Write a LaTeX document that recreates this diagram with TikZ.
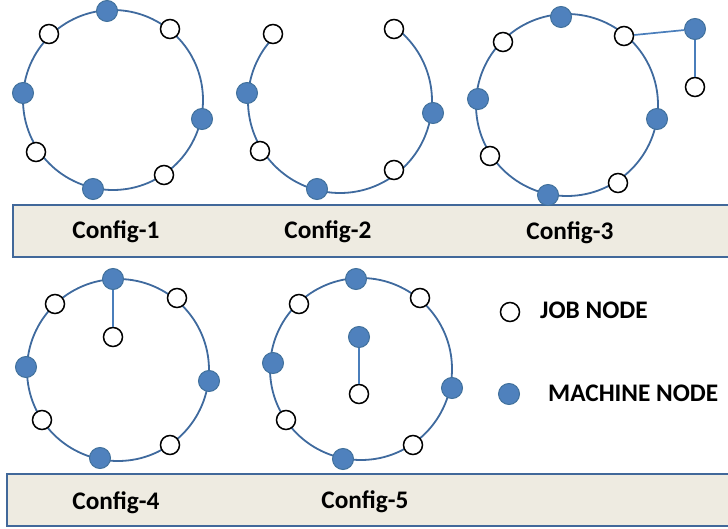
\documentclass[tikz,border=0pt]{standalone}
\usepackage{fontspec}
\setmainfont{Carlito}
\definecolor{ringblue}{HTML}{3F6A9E}
\definecolor{linkblue}{HTML}{4A7EBB}
\definecolor{machfill}{HTML}{4F81BD}
\definecolor{machdraw}{HTML}{41719C}
\definecolor{barfill}{HTML}{EEEBE1}
\definecolor{bardraw}{HTML}{41689A}
\begin{document}
\begin{tikzpicture}[x=1pt,y=-1pt,
  ring/.style={draw=ringblue,line width=1.8pt},
  link/.style={draw=linkblue,line width=1.7pt},
  jobnode/.style={circle,draw=black,line width=1.5pt,fill=white,minimum size=19pt,inner sep=0pt},
  machnode/.style={circle,draw=machdraw,line width=1pt,fill=machfill,minimum size=21pt,inner sep=0pt},
  bar/.style={draw=bardraw,line width=2pt,fill=barfill},
  lbl/.style={font=\bfseries\fontsize{25.3}{30}\selectfont,inner sep=0pt}]
\useasboundingbox (0,0) rectangle (728,529);
\clip (0,0) rectangle (728,529);
% label bars
\draw[bar] (13,205) rectangle (745,257);
\draw[bar] (7,474) rectangle (745,526);
\node[lbl] (l1) at (116,232) {Config-1};
\node[lbl] (l2) at (328,232) {Config-2};
\node[lbl] (l3) at (570,233) {Config-3};
\node[lbl] (l4) at (116,503) {Config-4};
\node[lbl] (l5) at (365,502) {Config-5};
% centres
\coordinate (c1c) at (113,100);
\coordinate (c2c) at (340,101);
\coordinate (c3c) at (567,105);
\coordinate (c4c) at (118,370);
\coordinate (c5c) at (361,369);
% rings
\draw[ring] (c1c) circle[radius=90pt];
\draw[ring] ([shift={(135:92pt)}]c2c) arc[start angle=135,end angle=413,radius=92pt];
\draw[ring] (c3c) circle[radius=91pt];
\draw[ring] (c4c) circle[radius=91pt];
\draw[ring] (c5c) circle[radius=91pt];
% Config-1
\node[machnode] (c1m1) at (107,11) {};
\node[jobnode] (c1w1) at (49,34) {};
\node[jobnode] (c1w2) at (170,29) {};
\node[machnode] (c1m2) at (23,93) {};
\node[machnode] (c1m3) at (202,119) {};
\node[jobnode] (c1w3) at (36,152) {};
\node[jobnode] (c1w4) at (164,175) {};
\node[machnode] (c1m4) at (93,189) {};
% Config-2
\node[jobnode] (c2w1) at (273,34) {};
\node[jobnode] (c2w2) at (394,29) {};
\node[machnode] (c2m2) at (247,93) {};
\node[machnode] (c2m3) at (433,113) {};
\node[jobnode] (c2w3) at (260,151) {};
\node[jobnode] (c2w4) at (394,170) {};
\node[machnode] (c2m4) at (317,189) {};
% Config-3
\node[machnode] (c3m1) at (561,17) {};
\node[jobnode] (c3w1) at (503,42) {};
\node[jobnode] (c3w2) at (624,36) {};
\node[machnode] (c3m5) at (695,29) {};
\node[jobnode] (c3w5) at (695,87) {};
\node[machnode] (c3m2) at (478,99) {};
\node[machnode] (c3m3) at (657,119) {};
\node[jobnode] (c3w3) at (490,156) {};
\node[jobnode] (c3w4) at (618,183) {};
\node[machnode] (c3m4) at (548,195) {};
\draw[link] (c3w2) -- (c3m5);
\draw[link] (c3m5) -- (c3w5);
% Config-4
\node[machnode] (c4m1) at (113,279) {};
\node[jobnode] (c4w1) at (55,304) {};
\node[jobnode] (c4w2) at (177,298) {};
\node[jobnode] (c4w5) at (113,337) {};
\node[machnode] (c4m2) at (26,367) {};
\node[machnode] (c4m3) at (209,381) {};
\node[jobnode] (c4w3) at (42,420) {};
\node[jobnode] (c4w4) at (170,445) {};
\node[machnode] (c4m4) at (100,458) {};
\draw[link] (c4m1) -- (c4w5);
% Config-5
\node[machnode] (c5m1) at (356,279) {};
\node[jobnode] (c5w1) at (299,304) {};
\node[jobnode] (c5w2) at (420,298) {};
\node[machnode] (c5m5) at (359,337) {};
\node[jobnode] (c5w5) at (359,394) {};
\node[machnode] (c5m2) at (273,363) {};
\node[machnode] (c5m3) at (452,388) {};
\node[jobnode] (c5w3) at (286,420) {};
\node[jobnode] (c5w4) at (413,445) {};
\node[machnode] (c5m4) at (343,459) {};
\draw[link] (c5m5) -- (c5w5);
% legend
\node[jobnode] (lw) at (510,312) {};
\node[machnode] (lm) at (509,394) {};
\node[lbl,anchor=west] (lwt) at (540,310) {JOB NODE};
\node[lbl,anchor=west] (lmt) at (548,393) {MACHINE NODE};
\end{tikzpicture}
\end{document}
